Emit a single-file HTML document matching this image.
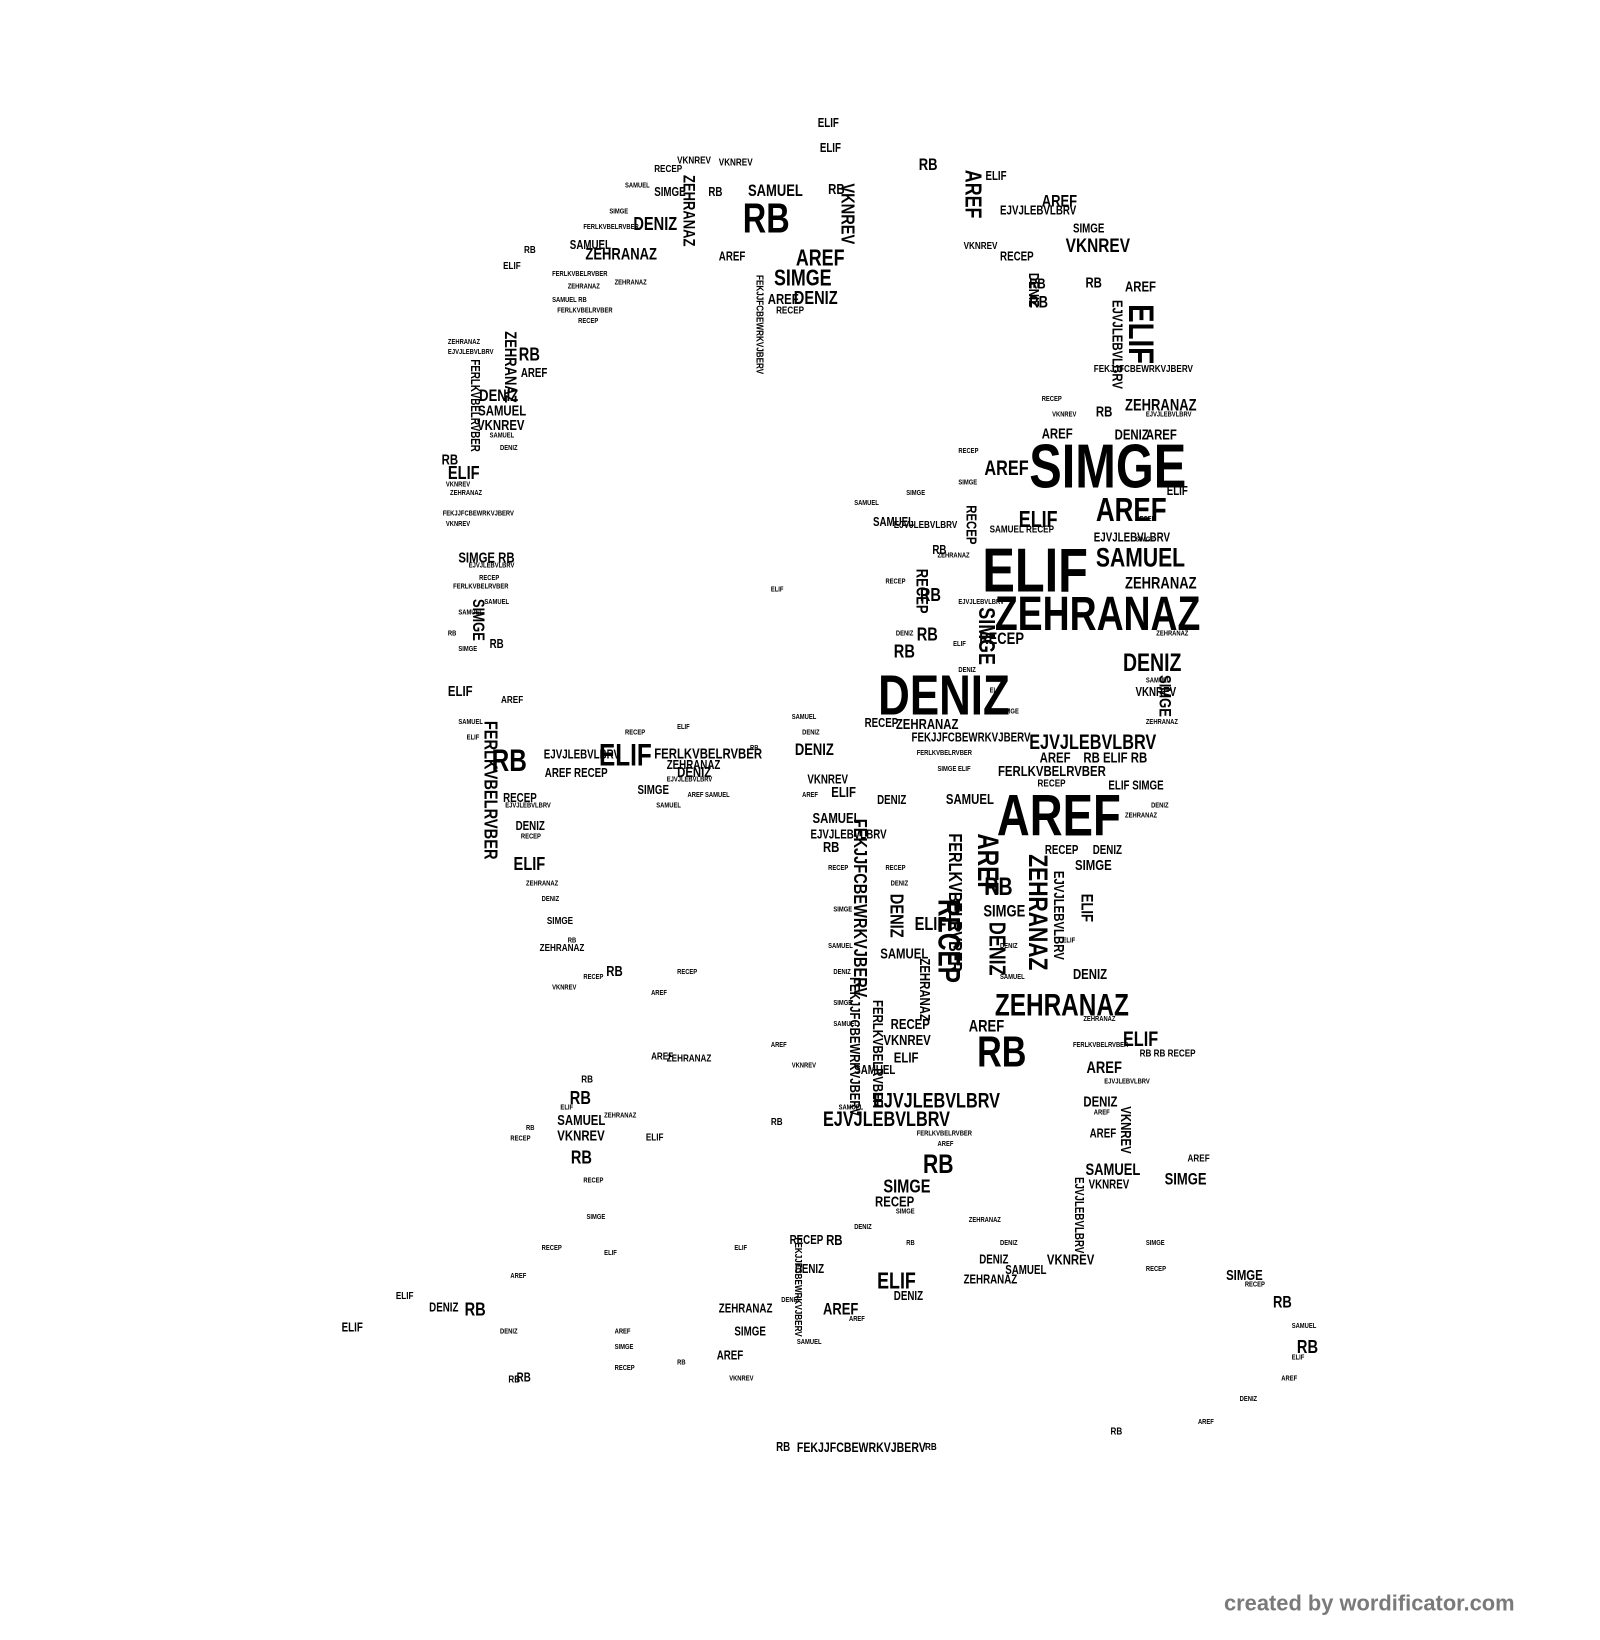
<!DOCTYPE html>
<html><head><meta charset="utf-8"><style>
html,body{margin:0;padding:0;background:#fff;width:1600px;height:1640px;overflow:hidden}
body{font-family:"Liberation Sans Narrow","Liberation Sans",sans-serif;font-weight:bold;color:#000}
#c{position:absolute;left:0;top:0;width:1536px;height:1574px;transform:scale(1.0417);transform-origin:0 0}
b{position:absolute;line-height:1;white-space:nowrap;font-weight:bold;transform:scaleX(0.78);transform-origin:0 0}
b.v{transform:rotate(90deg) scaleX(0.78);transform-origin:0 0}
i{position:absolute;line-height:1;white-space:nowrap;font-style:normal;font-weight:bold;font-size:7px;transform:scaleX(0.8);transform-origin:0 0}
.wm{position:absolute;left:1175px;top:1528px;font-family:"Liberation Sans",sans-serif;font-size:21px;color:#7a7a7a;font-weight:bold}
</style></head><body><div id="c">
<b style="left:988px;top:418px;font-size:60px">SIMGE</b>
<b style="left:943px;top:518px;font-size:60px">ELIF</b>
<b style="left:955px;top:566px;font-size:46px">ZEHRANAZ</b>
<b style="left:843px;top:641px;font-size:54px">DENIZ</b>
<b style="left:957px;top:755px;font-size:56px">AREF</b>
<b style="left:955px;top:951px;font-size:30px">ZEHRANAZ</b>
<b style="left:938px;top:989px;font-size:42px">RB</b>
<b style="left:713px;top:190px;font-size:40px">RB</b>
<b style="left:1052px;top:473px;font-size:32px">AREF</b>
<b style="left:1052px;top:522px;font-size:26px">SAMUEL</b>
<b style="left:1078px;top:625px;font-size:24px">DENIZ</b>
<b style="left:575px;top:711px;font-size:30px">ELIF</b>
<b style="left:472px;top:716px;font-size:30px">RB</b>
<b style="left:988px;top:703px;font-size:20px">EJVJLEBVLBRV</b>
<b style="left:838px;top:1047px;font-size:20px">EJVJLEBVLBRV</b>
<b style="left:790px;top:1065px;font-size:20px">EJVJLEBVLBRV</b>
<b style="left:958px;top:733px;font-size:14px">FERLKVBELRVBER</b>
<b style="left:1023px;top:227px;font-size:19px">VKNREV</b>
<b style="left:743px;top:256px;font-size:22px">SIMGE</b>
<b style="left:764px;top:237px;font-size:22px">AREF</b>
<b style="left:762px;top:277px;font-size:18px">DENIZ</b>
<b style="left:718px;top:176px;font-size:16px">SAMUEL</b>
<b style="left:608px;top:206px;font-size:18px">DENIZ</b>
<b style="left:562px;top:237px;font-size:16px">ZEHRANAZ</b>
<b style="left:547px;top:229px;font-size:12px">SAMUEL</b>
<b style="left:1000px;top:186px;font-size:16px">AREF</b>
<b style="left:960px;top:196px;font-size:12px">EJVJLEBVLBRV</b>
<b style="left:1030px;top:213px;font-size:12px">SIMGE</b>
<b style="left:882px;top:151px;font-size:16px">RB</b>
<b style="left:946px;top:163px;font-size:12px">ELIF</b>
<b style="left:787px;top:136px;font-size:12px">ELIF</b>
<b style="left:1080px;top:382px;font-size:16px">ZEHRANAZ</b>
<b style="left:1070px;top:410px;font-size:14px">DENIZ</b>
<b style="left:1100px;top:410px;font-size:14px">AREF</b>
<b style="left:945px;top:440px;font-size:20px">AREF</b>
<b style="left:978px;top:488px;font-size:22px">ELIF</b>
<b style="left:1080px;top:553px;font-size:16px">ZEHRANAZ</b>
<b style="left:1050px;top:510px;font-size:12px">EJVJLEBVLBRV</b>
<b style="left:1000px;top:409px;font-size:14px">AREF</b>
<b style="left:1052px;top:388px;font-size:14px">RB</b>
<b style="left:940px;top:606px;font-size:16px">RECEP</b>
<b style="left:858px;top:616px;font-size:18px">RB</b>
<b style="left:880px;top:600px;font-size:18px">RB</b>
<b style="left:883px;top:562px;font-size:18px">RB</b>
<b style="left:860px;top:688px;font-size:14px">ZEHRANAZ</b>
<b style="left:830px;top:688px;font-size:12px">RECEP</b>
<b style="left:875px;top:702px;font-size:12px">FEKJJFCBEWRKVJBERV</b>
<b style="left:763px;top:713px;font-size:16px">DENIZ</b>
<b style="left:775px;top:742px;font-size:12px">VKNREV</b>
<b style="left:998px;top:720px;font-size:14px">AREF</b>
<b style="left:1040px;top:720px;font-size:14px">RB ELIF RB</b>
<b style="left:908px;top:760px;font-size:14px">SAMUEL</b>
<b style="left:842px;top:762px;font-size:12px">DENIZ</b>
<b style="left:798px;top:753px;font-size:14px">ELIF</b>
<b style="left:780px;top:778px;font-size:14px">SAMUEL</b>
<b style="left:778px;top:795px;font-size:12px">EJVJLEBVLBRV</b>
<b style="left:790px;top:806px;font-size:14px">RB</b>
<b style="left:1003px;top:810px;font-size:12px">RECEP</b>
<b style="left:1049px;top:810px;font-size:12px">DENIZ</b>
<b style="left:1032px;top:823px;font-size:14px">SIMGE</b>
<b style="left:945px;top:840px;font-size:24px">RB</b>
<b style="left:944px;top:868px;font-size:16px">SIMGE</b>
<b style="left:878px;top:878px;font-size:18px">ELIF</b>
<b style="left:845px;top:908px;font-size:14px">SAMUEL</b>
<b style="left:1030px;top:928px;font-size:14px">DENIZ</b>
<b style="left:930px;top:978px;font-size:16px">AREF</b>
<b style="left:1078px;top:988px;font-size:20px">ELIF</b>
<b style="left:1043px;top:1018px;font-size:16px">AREF</b>
<b style="left:1040px;top:1050px;font-size:14px">DENIZ</b>
<b style="left:855px;top:976px;font-size:14px">RECEP</b>
<b style="left:848px;top:991px;font-size:14px">VKNREV</b>
<b style="left:858px;top:1008px;font-size:14px">ELIF</b>
<b style="left:820px;top:1021px;font-size:12px">SAMUEL</b>
<b style="left:886px;top:1104px;font-size:26px">RB</b>
<b style="left:848px;top:1130px;font-size:18px">SIMGE</b>
<b style="left:840px;top:1146px;font-size:14px">RECEP</b>
<b style="left:1042px;top:1116px;font-size:16px">SAMUEL</b>
<b style="left:1045px;top:1131px;font-size:12px">VKNREV</b>
<b style="left:1118px;top:1125px;font-size:16px">SIMGE</b>
<b style="left:1177px;top:1217px;font-size:14px">SIMGE</b>
<b style="left:1222px;top:1243px;font-size:16px">RB</b>
<b style="left:1245px;top:1284px;font-size:18px">RB</b>
<b style="left:1005px;top:1202px;font-size:14px">VKNREV</b>
<b style="left:842px;top:1219px;font-size:22px">ELIF</b>
<b style="left:858px;top:1238px;font-size:12px">DENIZ</b>
<b style="left:790px;top:1250px;font-size:16px">AREF</b>
<b style="left:793px;top:1183px;font-size:14px">RB</b>
<b style="left:758px;top:1184px;font-size:12px">RECEP</b>
<b style="left:763px;top:1212px;font-size:12px">DENIZ</b>
<b style="left:940px;top:1203px;font-size:12px">DENIZ</b>
<b style="left:965px;top:1213px;font-size:12px">SAMUEL</b>
<b style="left:925px;top:1222px;font-size:12px">ZEHRANAZ</b>
<b style="left:690px;top:1250px;font-size:12px">ZEHRANAZ</b>
<b style="left:705px;top:1272px;font-size:12px">SIMGE</b>
<b style="left:688px;top:1295px;font-size:12px">AREF</b>
<b style="left:547px;top:1045px;font-size:18px">RB</b>
<b style="left:535px;top:1068px;font-size:14px">SAMUEL</b>
<b style="left:535px;top:1083px;font-size:14px">VKNREV</b>
<b style="left:548px;top:1102px;font-size:18px">RB</b>
<b style="left:446px;top:1248px;font-size:18px">RB</b>
<b style="left:412px;top:1249px;font-size:12px">DENIZ</b>
<b style="left:328px;top:1268px;font-size:12px">ELIF</b>
<b style="left:380px;top:1240px;font-size:10px">ELIF</b>
<b style="left:496px;top:1316px;font-size:12px">RB</b>
<b style="left:765px;top:1383px;font-size:13px">FEKJJFCBEWRKVJBERV</b>
<b style="left:745px;top:1383px;font-size:12px">RB</b>
<b style="left:888px;top:1385px;font-size:10px">RB</b>
<b style="left:1066px;top:1370px;font-size:10px">RB</b>
<b style="left:488px;top:1320px;font-size:10px">RB</b>
<b style="left:620px;top:1088px;font-size:10px">ELIF</b>
<b style="left:522px;top:718px;font-size:12px">EJVJLEBVLBRV</b>
<b style="left:523px;top:736px;font-size:12px">AREF RECEP</b>
<b style="left:628px;top:716px;font-size:14px">FERLKVBELRVBER</b>
<b style="left:650px;top:734px;font-size:14px">DENIZ</b>
<b style="left:612px;top:752px;font-size:12px">SIMGE</b>
<b style="left:640px;top:728px;font-size:12px">ZEHRANAZ</b>
<b style="left:483px;top:760px;font-size:12px">RECEP</b>
<b style="left:495px;top:787px;font-size:12px">DENIZ</b>
<b style="left:493px;top:820px;font-size:18px">ELIF</b>
<b style="left:525px;top:880px;font-size:10px">SIMGE</b>
<b style="left:518px;top:906px;font-size:10px">ZEHRANAZ</b>
<b style="left:582px;top:925px;font-size:14px">RB</b>
<b style="left:430px;top:656px;font-size:14px">ELIF</b>
<b style="left:481px;top:668px;font-size:10px">AREF</b>
<b style="left:424px;top:434px;font-size:14px">RB</b>
<b style="left:430px;top:445px;font-size:18px">ELIF</b>
<b style="left:440px;top:528px;font-size:14px">SIMGE RB</b>
<b style="left:458px;top:401px;font-size:14px">VKNREV</b>
<b style="left:460px;top:373px;font-size:16px">DENIZ</b>
<b style="left:459px;top:387px;font-size:14px">SAMUEL</b>
<b style="left:500px;top:352px;font-size:12px">AREF</b>
<b style="left:498px;top:331px;font-size:18px">RB</b>
<b style="left:470px;top:612px;font-size:12px">RB</b>
<b style="left:503px;top:236px;font-size:10px">RB</b>
<b style="left:483px;top:251px;font-size:10px">ELIF</b>
<b style="left:680px;top:178px;font-size:12px">RB</b>
<b style="left:628px;top:178px;font-size:12px">SIMGE</b>
<b style="left:628px;top:158px;font-size:10px">RECEP</b>
<b style="left:650px;top:150px;font-size:10px">VKNREV</b>
<b style="left:785px;top:112px;font-size:12px">ELIF</b>
<b style="left:690px;top:152px;font-size:10px">VKNREV</b>
<b style="left:795px;top:174px;font-size:14px">RB</b>
<b style="left:690px;top:240px;font-size:12px">AREF</b>
<b style="left:745px;top:294px;font-size:10px">RECEP</b>
<b style="left:737px;top:280px;font-size:14px">AREF</b>
<b style="left:960px;top:240px;font-size:12px">RECEP</b>
<b style="left:925px;top:232px;font-size:10px">VKNREV</b>
<b style="left:1042px;top:264px;font-size:14px">RB</b>
<b style="left:1080px;top:268px;font-size:14px">AREF</b>
<b style="left:988px;top:283px;font-size:16px">RB</b>
<b style="left:988px;top:265px;font-size:14px">RB</b>
<b style="left:1050px;top:350px;font-size:10px">FEKJJFCBEWRKVJBERV</b>
<b style="left:1120px;top:465px;font-size:12px">ELIF</b>
<b style="left:838px;top:495px;font-size:12px">SAMUEL</b>
<b style="left:858px;top:500px;font-size:10px">EJVJLEBVLBRV</b>
<b style="left:895px;top:522px;font-size:12px">RB</b>
<b style="left:1090px;top:658px;font-size:12px">VKNREV</b>
<b style="left:950px;top:504px;font-size:10px">SAMUEL RECEP</b>
<b style="left:1064px;top:748px;font-size:12px">ELIF SIMGE</b>
<b style="left:996px;top:748px;font-size:10px">RECEP</b>
<b style="left:1094px;top:1007px;font-size:10px">RB RB RECEP</b>
<b style="left:1046px;top:1082px;font-size:12px">AREF</b>
<b style="left:740px;top:1073px;font-size:10px">RB</b>
<b style="left:625px;top:1010px;font-size:10px">AREF</b>
<b style="left:640px;top:1012px;font-size:10px">ZEHRANAZ</b>
<b style="left:558px;top:1032px;font-size:10px">RB</b>
<b style="left:1140px;top:1108px;font-size:10px">AREF</b>
<b class="v" style="left:1112px;top:292px;font-size:34px">ELIF</b>
<b class="v" style="left:925px;top:863px;font-size:30px">RECEP</b>
<b class="v" style="left:962px;top:800px;font-size:28px">AREF</b>
<b class="v" style="left:1010px;top:820px;font-size:26px">ZEHRANAZ</b>
<b class="v" style="left:968px;top:885px;font-size:22px">DENIZ</b>
<b class="v" style="left:945px;top:163px;font-size:22px">AREF</b>
<b class="v" style="left:823px;top:176px;font-size:18px">VKNREV</b>
<b class="v" style="left:668px;top:168px;font-size:16px">ZEHRANAZ</b>
<b class="v" style="left:958px;top:583px;font-size:22px">SIMGE</b>
<b class="v" style="left:892px;top:546px;font-size:16px">RECEP</b>
<b class="v" style="left:940px;top:485px;font-size:14px">RECEP</b>
<b class="v" style="left:835px;top:786px;font-size:18px">FEKJJFCBEWRKVJBERV</b>
<b class="v" style="left:926px;top:800px;font-size:18px">FERLKVBELRVBER</b>
<b class="v" style="left:870px;top:858px;font-size:18px">DENIZ</b>
<b class="v" style="left:850px;top:960px;font-size:14px">FERLKVBELRVBER</b>
<b class="v" style="left:895px;top:920px;font-size:14px">ZEHRANAZ</b>
<b class="v" style="left:1050px;top:858px;font-size:16px">ELIF</b>
<b class="v" style="left:1125px;top:648px;font-size:16px">SIMGE</b>
<b class="v" style="left:480px;top:692px;font-size:18px">FERLKVBELRVBER</b>
<b class="v" style="left:497px;top:318px;font-size:16px">ZEHRANAZ</b>
<b class="v" style="left:466px;top:575px;font-size:16px">SIMGE</b>
<b class="v" style="left:462px;top:345px;font-size:12px">FERLKVBELRVBER</b>
<b class="v" style="left:1000px;top:262px;font-size:14px">DENIZ</b>
<b class="v" style="left:1080px;top:288px;font-size:14px">EJVJLEBVLBRV</b>
<b class="v" style="left:1088px;top:1062px;font-size:14px">VKNREV</b>
<b class="v" style="left:1042px;top:1130px;font-size:12px">EJVJLEBVLBRV</b>
<b class="v" style="left:828px;top:938px;font-size:14px">FEKJJFCBEWRKVJBERV</b>
<b class="v" style="left:733px;top:264px;font-size:10px">FEKJJFCBEWRKVJBERV</b>
<b class="v" style="left:1024px;top:836px;font-size:14px">EJVJLEBVLBRV</b>
<b class="v" style="left:770px;top:1188px;font-size:10px">FEKJJFCBEWRKVJBERV</b>
<!-- fillers -->
<i style="left:600px;top:175px">SAMUEL</i><i style="left:585px;top:200px">SIMGE</i><i style="left:560px;top:215px">FERLKVBELRVBER</i>
<i style="left:530px;top:260px">FERLKVBELRVBER</i><i style="left:545px;top:272px">ZEHRANAZ</i><i style="left:530px;top:285px">SAMUEL RB</i>
<i style="left:535px;top:295px">FERLKVBELRVBER</i><i style="left:555px;top:305px">RECEP</i><i style="left:590px;top:268px">ZEHRANAZ</i>
<i style="left:430px;top:325px">ZEHRANAZ</i><i style="left:430px;top:335px">EJVJLEBVLBRV</i><i style="left:470px;top:415px">SAMUEL</i>
<i style="left:480px;top:427px">DENIZ</i><i style="left:428px;top:462px">VKNREV</i><i style="left:432px;top:470px">ZEHRANAZ</i>
<i style="left:425px;top:490px">FEKJJFCBEWRKVJBERV</i><i style="left:428px;top:500px">VKNREV</i><i style="left:450px;top:540px">EJVJLEBVLBRV</i>
<i style="left:460px;top:552px">RECEP</i><i style="left:465px;top:575px">SAMUEL</i><i style="left:435px;top:560px">FERLKVBELRVBER</i>
<i style="left:440px;top:620px">SIMGE</i><i style="left:440px;top:690px">SAMUEL</i><i style="left:448px;top:705px">ELIF</i>
<i style="left:485px;top:770px">EJVJLEBVLBRV</i><i style="left:500px;top:800px">RECEP</i><i style="left:505px;top:845px">ZEHRANAZ</i>
<i style="left:520px;top:860px">DENIZ</i><i style="left:545px;top:900px">RB</i><i style="left:530px;top:945px">VKNREV</i>
<i style="left:560px;top:935px">RECEP</i><i style="left:625px;top:950px">AREF</i><i style="left:650px;top:930px">RECEP</i>
<i style="left:600px;top:700px">RECEP</i><i style="left:650px;top:695px">ELIF</i><i style="left:660px;top:760px">AREF SAMUEL</i>
<i style="left:630px;top:770px">SAMUEL</i><i style="left:640px;top:745px">EJVJLEBVLBRV</i>
<i style="left:820px;top:480px">SAMUEL</i><i style="left:870px;top:470px">SIMGE</i><i style="left:920px;top:430px">RECEP</i>
<i style="left:920px;top:460px">SIMGE</i><i style="left:1000px;top:380px">RECEP</i><i style="left:1010px;top:395px">VKNREV</i>
<i style="left:1100px;top:395px">EJVJLEBVLBRV</i><i style="left:1090px;top:495px">RECEP</i><i style="left:1090px;top:515px">SIMGE</i>
<i style="left:900px;top:530px">ZEHRANAZ</i><i style="left:850px;top:555px">RECEP</i><i style="left:920px;top:575px">EJVJLEBVLBRV</i>
<i style="left:860px;top:605px">DENIZ</i><i style="left:915px;top:615px">ELIF</i><i style="left:920px;top:640px">DENIZ</i>
<i style="left:950px;top:660px">ELIF</i><i style="left:960px;top:680px">SIMGE</i><i style="left:1100px;top:650px">SAMUEL</i>
<i style="left:1100px;top:690px">ZEHRANAZ</i><i style="left:1110px;top:605px">ZEHRANAZ</i><i style="left:1105px;top:770px">DENIZ</i>
<i style="left:1080px;top:780px">ZEHRANAZ</i><i style="left:760px;top:685px">SAMUEL</i><i style="left:770px;top:700px">DENIZ</i>
<i style="left:880px;top:720px">FERLKVBELRVBER</i><i style="left:900px;top:735px">SIMGE ELIF</i><i style="left:770px;top:760px">AREF</i>
<i style="left:850px;top:830px">RECEP</i><i style="left:855px;top:845px">DENIZ</i><i style="left:795px;top:830px">RECEP</i>
<i style="left:800px;top:870px">SIMGE</i><i style="left:795px;top:905px">SAMUEL</i><i style="left:800px;top:930px">DENIZ</i>
<i style="left:800px;top:960px">SIMGE</i><i style="left:800px;top:980px">SAMUEL</i><i style="left:960px;top:905px">DENIZ</i>
<i style="left:960px;top:935px">SAMUEL</i><i style="left:1020px;top:900px">ELIF</i><i style="left:1040px;top:975px">ZEHRANAZ</i>
<i style="left:1030px;top:1000px">FERLKVBELRVBER</i><i style="left:1060px;top:1035px">EJVJLEBVLBRV</i><i style="left:1050px;top:1065px">AREF</i>
<i style="left:880px;top:1085px">FERLKVBELRVBER</i><i style="left:900px;top:1095px">AREF</i><i style="left:860px;top:1160px">SIMGE</i>
<i style="left:820px;top:1175px">DENIZ</i><i style="left:870px;top:1190px">RB</i><i style="left:930px;top:1168px">ZEHRANAZ</i>
<i style="left:960px;top:1190px">DENIZ</i><i style="left:1100px;top:1190px">SIMGE</i><i style="left:1100px;top:1215px">RECEP</i>
<i style="left:1195px;top:1230px">RECEP</i><i style="left:1240px;top:1270px">SAMUEL</i><i style="left:1240px;top:1300px">ELIF</i>
<i style="left:1230px;top:1320px">AREF</i><i style="left:1190px;top:1340px">DENIZ</i><i style="left:1150px;top:1362px">AREF</i>
<i style="left:520px;top:1195px">RECEP</i><i style="left:580px;top:1200px">ELIF</i><i style="left:490px;top:1222px">AREF</i>
<i style="left:480px;top:1275px">DENIZ</i><i style="left:590px;top:1275px">AREF</i><i style="left:590px;top:1290px">SIMGE</i>
<i style="left:590px;top:1310px">RECEP</i><i style="left:650px;top:1305px">RB</i><i style="left:700px;top:1320px">VKNREV</i>
<i style="left:705px;top:1195px">ELIF</i><i style="left:750px;top:1245px">DENIZ</i><i style="left:765px;top:1285px">SAMUEL</i>
<i style="left:815px;top:1263px">AREF</i><i style="left:740px;top:1000px">AREF</i><i style="left:760px;top:1020px">VKNREV</i>
<i style="left:805px;top:1060px">SAMUEL</i><i style="left:490px;top:1090px">RECEP</i><i style="left:505px;top:1080px">RB</i>
<i style="left:538px;top:1060px">ELIF</i><i style="left:580px;top:1068px">ZEHRANAZ</i><i style="left:560px;top:1130px">RECEP</i>
<i style="left:563px;top:1165px">SIMGE</i><i style="left:740px;top:563px">ELIF</i><i style="left:720px;top:715px">RB</i>
<i style="left:440px;top:585px">SAMUEL</i><i style="left:430px;top:605px">RB</i>
<div class="wm">created by wordificator.com</div>
</div></body></html>
